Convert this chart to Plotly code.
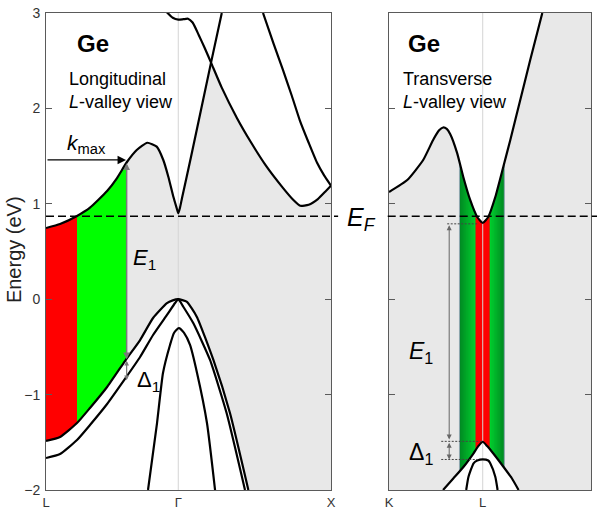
import numpy as np
import plotly.graph_objects as go

# ---------------- Left panel: L - Gamma - X  (k in 2*pi/a) ----------------
K_L, K_GAMMA, K_X = 0.0, 0.866, 1.866

# lowest conduction band from L through Gamma, continuing up past the crossing
cbA_k = [0.0, 0.092, 0.203, 0.288, 0.400, 0.465, 0.530, 0.594, 0.663, 0.725,
         0.768, 0.801, 0.834, 0.856, 0.866, 0.876, 0.890, 0.950, 1.0806, 1.151]
cbA_e = [0.746, 0.788, 0.872, 0.959, 1.134, 1.270, 1.438, 1.564, 1.640, 1.599,
         1.459, 1.284, 1.074, 0.953, 0.900, 0.950, 1.055, 1.495, 2.48, 3.0]

# upper conduction band near Gamma, descending through the crossing to X
cbB_k = [0.790, 0.830, 0.866, 0.900, 0.930, 0.960, 1.000, 1.040, 1.0806, 1.150,
         1.250, 1.340, 1.440, 1.550, 1.620, 1.665, 1.720, 1.780, 1.830, 1.866]
cbB_e = [3.01, 2.95, 2.93, 2.935, 2.94, 2.90, 2.77, 2.63, 2.48, 2.22,
         1.90, 1.65, 1.40, 1.17, 1.04, 0.98, 0.99, 1.05, 1.13, 1.19]

# band entering from the top and meeting band B at X
cbC_k = [1.421, 1.490, 1.552, 1.610, 1.663, 1.720, 1.775, 1.820, 1.866]
cbC_e = [3.00, 2.68, 2.40, 2.13, 1.87, 1.64, 1.43, 1.30, 1.19]

# valence bands (heavy / light hole and split-off)
vb1_k = [0.0, 0.092, 0.203, 0.288, 0.400, 0.517, 0.616, 0.701, 0.792, 0.830,
         0.866, 0.921, 0.987, 1.096, 1.205, 1.325]
vb1_e = [-1.486, -1.444, -1.298, -1.140, -0.920, -0.648, -0.428, -0.197, -0.040, -0.012,
         0.0, -0.026, -0.183, -0.637, -1.196, -2.0]

vb2_k = [0.0, 0.092, 0.203, 0.288, 0.400, 0.517, 0.616, 0.701, 0.792, 0.845,
         0.866, 0.899, 0.965, 1.074, 1.183, 1.303]
vb2_e = [-1.665, -1.623, -1.476, -1.319, -1.099, -0.836, -0.606, -0.375, -0.165, -0.040,
         0.0, -0.079, -0.253, -0.637, -1.196, -2.0]

vso_k = [0.668, 0.727, 0.766, 0.812, 0.838, 0.870, 0.904, 0.943, 0.989, 1.054, 1.107]
vso_e = [-2.0, -1.298, -0.774, -0.480, -0.354, -0.302, -0.354, -0.480, -0.774, -1.298, -2.0]

# occupied slabs along the longitudinal direction
left_slab_edges = [0.0, 0.203, 0.524]
left_slab_colors = ["#ff0000", "#00ff00"]

K_MAX = 0.524
E_KMAX = 1.46
E_VB1_KMAX = -0.63
E_VB2_KMAX = -0.85

# ---------------- Right panel: K - L - W ----------------
K_K, K_W = -0.612, 0.707

cbT_k = [-0.612, -0.493, -0.389, -0.324, -0.285, -0.259, -0.235, -0.212, -0.167, -0.127,
         -0.082, -0.036, 0.0, 0.036, 0.082, 0.134, 0.180, 0.245, 0.310, 0.389]
cbT_e = [1.124, 1.249, 1.459, 1.669, 1.770, 1.800, 1.785, 1.730, 1.532, 1.281,
         1.040, 0.862, 0.799, 0.862, 1.071, 1.386, 1.669, 2.088, 2.507, 3.0]

vbT1_k = [-0.259, -0.191, -0.125, -0.060, -0.029, 0.0, 0.029, 0.060, 0.135, 0.190, 0.234]
vbT1_e = [-2.0, -1.877, -1.756, -1.615, -1.540, -1.494, -1.540, -1.599, -1.756, -1.877, -2.0]

vbT2_k = [-0.108, -0.093, -0.060, -0.036, 0.0, 0.036, 0.049, 0.082, 0.097]
vbT2_e = [-2.0, -1.861, -1.720, -1.691, -1.678, -1.691, -1.720, -1.861, -2.0]

right_slab_edges = [-0.152, -0.047, 0.045, 0.141]
green_outer = (0, 140, 35)
green_inner = (0, 205, 45)

E_F = 0.87
E_CBMIN_L = 0.79
E_VB1_L = -1.49
E_VB2_L = -1.68
K_ARROW_T = -0.219

FONT = "Liberation Sans, Arial, sans-serif"
GRAY_BG = "#e8e8e8"
AXIS_COL = "#5a5a5a"

fig = go.Figure()


def band(k, e, xa="x", ya="y"):
    fig.add_trace(go.Scatter(x=k, y=e, mode="lines", xaxis=xa, yaxis=ya,
                             line=dict(color="black", width=2.2, shape="spline", smoothing=0.5),
                             hoverinfo="skip", showlegend=False))


def poly(xs, ys, color, xa="x", ya="y"):
    fig.add_trace(go.Scatter(x=xs, y=ys, mode="lines", fill="toself", fillcolor=color,
                             xaxis=xa, yaxis=ya, line=dict(width=0, color=color),
                             hoverinfo="skip", showlegend=False))


def rgb(c):
    return "rgb(%d,%d,%d)" % tuple(int(round(v)) for v in c)


TOP, BOT = 3.6, -2.6

# ---- left panel fills ----
for i, col in enumerate(left_slab_colors):
    a, b = left_slab_edges[i], left_slab_edges[i + 1]
    poly([a, b, b, a], [BOT, BOT, TOP, TOP], col)

# white region above the conduction-band envelope
kA, eA = np.array(cbA_k), np.array(cbA_e)
kB, eB = np.array(cbB_k), np.array(cbB_e)
k_cross = 1.0806
env_k = np.concatenate([kA[kA <= k_cross], kB[kB > k_cross]])
env_e = np.concatenate([eA[kA <= k_cross], eB[kB > k_cross]])
poly(list(env_k) + [K_X + 0.01, K_X + 0.01, K_L - 0.01, K_L - 0.01],
     list(env_e) + [env_e[-1], TOP, TOP, env_e[0]], "white")

# white region below the top valence band
poly([K_L - 0.01] + vb1_k + [vb1_k[-1], K_L - 0.01],
     [vb1_e[0]] + vb1_e + [BOT, BOT], "white")

# reference line at Gamma
fig.add_trace(go.Scatter(x=[K_GAMMA, K_GAMMA], y=[-2, 3], mode="lines",
                         line=dict(color="#d4d4d4", width=1), hoverinfo="skip", showlegend=False))

band(cbA_k, cbA_e)
band(cbB_k, cbB_e)
band(cbC_k, cbC_e)
band(vb1_k, vb1_e)
band(vb2_k, vb2_e)
band(vso_k, vso_e)

# ---- right panel fills ----
n_sub = 10
gl, rl, rr, gr = right_slab_edges
# left green slab: darker towards the outside
for j in range(n_sub):
    t = j / (n_sub - 1)
    x0 = gl + (rl - gl) * j / n_sub
    c = [green_outer[m] + (green_inner[m] - green_outer[m]) * t for m in range(3)]
    poly([x0, rl, rl, x0], [BOT, BOT, TOP, TOP], rgb(c), "x2", "y2")
# right green slab
for j in range(n_sub):
    t = j / (n_sub - 1)
    x1 = gr - (gr - rr) * j / n_sub
    c = [green_outer[m] + (green_inner[m] - green_outer[m]) * t for m in range(3)]
    poly([rr, x1, x1, rr], [BOT, BOT, TOP, TOP], rgb(c), "x2", "y2")
poly([rl, rr, rr, rl], [BOT, BOT, TOP, TOP], "#ff0000", "x2", "y2")
for xe in (gl, gr):
    fig.add_trace(go.Scatter(x=[xe, xe], y=[BOT, TOP], mode="lines", xaxis="x2", yaxis="y2",
                             line=dict(color="#8fa6b0", width=1), hoverinfo="skip", showlegend=False))

poly([K_K - 0.01] + cbT_k + [cbT_k[-1] + 0.01, K_K - 0.01],
     [cbT_e[0]] + cbT_e + [TOP, TOP], "white", "x2", "y2")
poly(vbT1_k + [vbT1_k[-1], vbT1_k[0]], vbT1_e + [BOT, BOT], "white", "x2", "y2")

fig.add_trace(go.Scatter(x=[0, 0], y=[-2, 3], mode="lines", xaxis="x2", yaxis="y2",
                         line=dict(color="#d4d4d4", width=1), hoverinfo="skip", showlegend=False))

band(cbT_k, cbT_e, "x2", "y2")
band(vbT1_k, vbT1_e, "x2", "y2")
band(vbT2_k, vbT2_e, "x2", "y2")

# dotted guide lines for E1 and Delta1 at L
for x0, x1, yv in [(K_ARROW_T - 0.013, -0.03, E_CBMIN_L),
                   (K_ARROW_T - 0.052, 0.0, E_VB1_L),
                   (K_ARROW_T - 0.052, -0.03, E_VB2_L)]:
    fig.add_trace(go.Scatter(x=[x0, x1], y=[yv, yv], mode="lines", xaxis="x2", yaxis="y2",
                             line=dict(color="#444", width=1, dash="2px,1.5px"),
                             hoverinfo="skip", showlegend=False))

# ---- annotations ----
ann = []


def text(x, y, s, size, xa="x", ya="y", xanchor="center", bold=False, align="center"):
    ann.append(dict(x=x, y=y, xref=xa, yref=ya, text=s, showarrow=False,
                    xanchor=xanchor, yanchor="middle", align=align,
                    font=dict(family=FONT, size=size, color="black",
                              weight="bold" if bold else "normal")))


def arrow(x, y, ax, ay, color, width, size, both=False, xa="x", ya="y"):
    ann.append(dict(x=x, y=y, ax=ax, ay=ay, xref=xa, yref=ya, axref=xa, ayref=ya,
                    text="", showarrow=True, arrowhead=2, arrowsize=size,
                    arrowwidth=width, arrowcolor=color, standoff=0, startstandoff=0,
                    startarrowhead=2, startarrowsize=size,
                    arrowside="end+start" if both else "end"))


text(0.19, 2.68, "Ge", 24, xanchor="left", bold=True)
text(0.1375, 2.19, "Longitudinal<br><i>L</i>-valley view", 18, xanchor="left", align="left")
text(-0.50, 2.68, "Ge", 24, "x2", "y2", xanchor="left", bold=True)
text(-0.532, 2.19, "Transverse<br><i>L</i>-valley view", 18, "x2", "y2", xanchor="left", align="left")

text(0.265, 1.63, "<i>k</i><sub>max</sub>", 21)
arrow(K_MAX, E_KMAX, K_L, E_KMAX, "black", 1.3, 1.3)
arrow(K_MAX + 0.004, E_VB1_KMAX, K_MAX + 0.004, E_KMAX - 0.02, "#7a7a7a", 1.5, 0.9, both=True)
arrow(K_MAX + 0.004, E_VB2_KMAX, K_MAX + 0.004, E_VB1_KMAX, "#7a7a7a", 1.2, 0.8, both=True)
text(0.648, 0.42, "<i>E</i><sub>1</sub>", 22)
text(0.67, -0.86, "Δ<sub>1</sub>", 22)

arrow(K_ARROW_T, E_VB1_L + 0.02, K_ARROW_T, E_CBMIN_L, "#666", 1.0, 1.0, both=True, xa="x2", ya="y2")
arrow(K_ARROW_T, E_VB2_L, K_ARROW_T, E_VB1_L, "#666", 1.0, 1.0, both=True, xa="x2", ya="y2")
text(-0.405, -0.56, "<i>E</i><sub>1</sub>", 23, "x2", "y2")
text(-0.405, -1.62, "Δ<sub>1</sub>", 23, "x2", "y2")

ann.append(dict(x=0.578, y=0.84, xref="paper", yref="y", text="<i>E<sub>F</sub></i>",
                showarrow=False, xanchor="center", yanchor="middle",
                font=dict(family=FONT, size=25, color="black")))
ann.append(dict(x=-0.0596, y=0.52, xref="paper", yref="y", text="Energy (eV)", textangle=-90,
                showarrow=False, xanchor="center", yanchor="middle",
                font=dict(family=FONT, size=20, color="#222")))

# Fermi level across both panels
shapes = [
    dict(type="line", xref="paper", yref="y", x0=0.0, x1=0.536, y0=E_F, y1=E_F,
         line=dict(color="black", width=1.5, dash="8px,4px"), layer="above"),
    dict(type="line", xref="paper", yref="y", x0=0.627, x1=1.02, y0=E_F, y1=E_F,
         line=dict(color="black", width=1.5, dash="8px,4px"), layer="above"),
]

axis_common = dict(showline=True, linecolor=AXIS_COL, linewidth=1, showgrid=False,
                   zeroline=False, fixedrange=True, automargin=False)
tickfont = dict(family=FONT, size=14, color="#333")
xtickfont = dict(family=FONT, size=13, color="#333")

fig.update_layout(
    width=597, height=509,
    margin=dict(l=46, r=6, t=13, b=19, autoexpand=False),
    paper_bgcolor="white", plot_bgcolor=GRAY_BG,
    showlegend=False,
    xaxis=dict(domain=[0, 0.5229], range=[K_L, K_X], tickvals=[K_L, K_GAMMA, K_X],
               ticktext=["L", "Γ", "X"], ticks="", mirror=True, tickfont=xtickfont,
               anchor="y", ticklabelstandoff=0, **axis_common),
    yaxis=dict(domain=[0, 1], range=[-2, 3], tickvals=[-2, -1, 0, 1, 2, 3], ticks="inside",
               ticklen=6, tickcolor=AXIS_COL, mirror="ticks", tickfont=tickfont,
               anchor="x", ticklabelstandoff=2, **axis_common),
    xaxis2=dict(domain=[0.6294, 1], range=[K_K, K_W], tickvals=[K_K, 0, K_W],
                ticktext=["K", "L", "W"], ticks="", mirror=True, tickfont=xtickfont,
                anchor="y2", ticklabelstandoff=0, **axis_common),
    yaxis2=dict(domain=[0, 1], range=[-2, 3], tickvals=[-2, -1, 0, 1, 2, 3], ticks="inside",
                ticklen=6, tickcolor=AXIS_COL, mirror="ticks", showticklabels=False,
                anchor="x2", **axis_common),
    annotations=ann,
    shapes=shapes,
)

fig.write_html("out.html")
